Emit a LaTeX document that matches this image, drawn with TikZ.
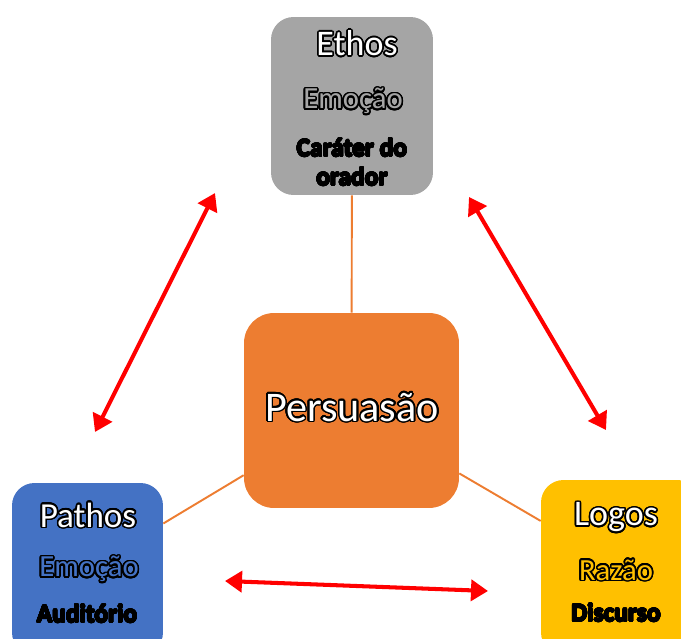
\documentclass[tikz,border=0pt]{standalone}
\usepackage{fontspec}
\setmainfont{Carlito}
\usepackage{contour}
\usetikzlibrary{arrows.meta}
\definecolor{EthosGray}{HTML}{A5A5A5}
\definecolor{PersOrange}{HTML}{ED7D31}
\definecolor{PathosBlue}{HTML}{4472C4}
\definecolor{LogosYellow}{HTML}{FFC000}
\definecolor{ArrowRed}{HTML}{FF0000}
\contourlength{0.9pt}
\contournumber{24}
\newcommand{\outl}[2]{\contour{black}{\textcolor{#1}{#2}}}
\newcommand{\fs}[1]{\fontsize{#1}{1.2\dimexpr#1pt\relax}\selectfont}
\tikzset{
  box/.style={rectangle, rounded corners=0.45cm, inner sep=0pt},
  lbl/.style={inner sep=0pt, align=center},
  link/.style={draw=PersOrange, line width=1.1pt},
  dbl/.style={draw=ArrowRed, line width=2.3pt, {Triangle[length=3.4mm,width=4.2mm]}-{Triangle[length=3.4mm,width=4.2mm]}}
}

\begin{document}
\begin{tikzpicture}[x=0.02cm,y=-0.02cm]
  \useasboundingbox (0,0) rectangle (681,639);
  \clip (0,0) rectangle (681,639);
  \node[box, fill=EthosGray, minimum width=3.24cm, minimum height=3.56cm] (ethos) at (352,106) {};
  \node[box, fill=PersOrange, minimum width=4.3cm, minimum height=3.9cm, rounded corners=0.6cm] (pers) at (351.5,410.5) {};
  \node[box, fill=PathosBlue, minimum width=3.02cm, minimum height=3.44cm] (pathos) at (87.5,569) {};
  \node[box, fill=LogosYellow, minimum width=3.18cm, minimum height=3.5cm] (logos) at (620.5,567.5) {};
  \draw[link] (ethos) -- (pers);
  \draw[link] (pathos) -- (pers);
  \draw[link] (logos) -- (pers);
  \node[lbl] (ethosT) at (357,44) {\fs{20.5}\outl{white}{Ethos}};
  \node[lbl] (ethosE) at (353,102) {\fs{17.5}\outl{EthosGray}{Emoção}};
  \node[lbl] (ethosC) at (352,148) {\fs{14.5}\bfseries\contourlength{0.4pt}\outl{black}{Caráter do}};
  \node[lbl] (ethosO) at (352,177) {\fs{14.5}\bfseries\contourlength{0.4pt}\outl{black}{orador}};
  \node[lbl] (persT) at (352,408) {\fs{24}\outl{white}{Persuasão}};
  \node[lbl] (pathosT) at (88,516) {\fs{20}\outl{white}{Pathos}};
  \node[lbl] (pathosE) at (89,570) {\fs{17.5}\outl{PathosBlue}{Emoção}};
  \node[lbl] (pathosA) at (87,614) {\fs{14.5}\bfseries\contourlength{0.4pt}\outl{black}{Auditório}};
  \node[lbl] (logosT) at (616,518) {\fs{20.5}\outl{white}{Logos}};
  \node[lbl] (logosR) at (616,571) {\fs{17.5}\outl{LogosYellow}{Razão}};
  \node[lbl] (logosD) at (616,613) {\fs{14.5}\bfseries\contourlength{0.4pt}\outl{black}{Discurso}};
  \coordinate (a1) at (95,432);
  \coordinate (a2) at (215,193);
  \coordinate (b1) at (469,197);
  \coordinate (b2) at (606,430);
  \coordinate (c1) at (225,581);
  \coordinate (c2) at (488,591);
  \draw[dbl] (a1) -- (a2);
  \draw[dbl] (b1) -- (b2);
  \draw[dbl] (c1) -- (c2);
\end{tikzpicture}
\end{document}
